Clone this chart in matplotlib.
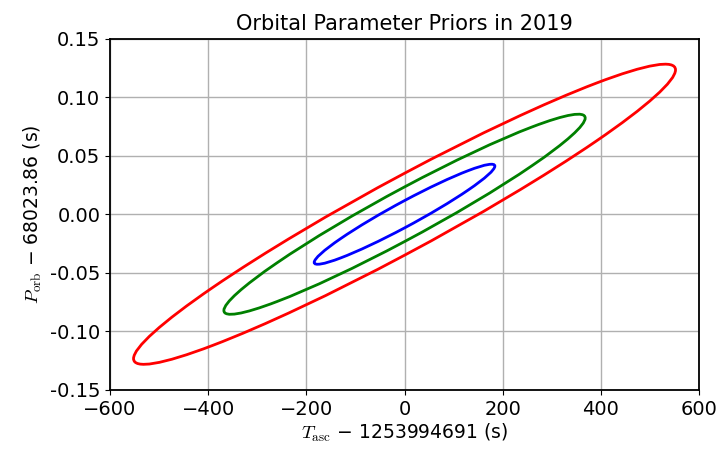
import numpy as np
import matplotlib
matplotlib.use("Agg")
import matplotlib.pyplot as plt
from matplotlib.patches import Ellipse

# prior widths
sigma_T = 184.0      # s, on T_asc
sigma_P = 0.0427     # s, on P_orb
rho = 0.962          # correlation
levels = [1, 2, 3]
colors = ["blue", "green", "red"]

plt.rcParams["mathtext.fontset"] = "cm"
plt.rcParams["font.size"] = 13.5

cov = np.array([[sigma_T**2, rho * sigma_T * sigma_P],
                [rho * sigma_T * sigma_P, sigma_P**2]])
vals, vecs = np.linalg.eigh(cov)
angle = np.degrees(np.arctan2(vecs[1, 1], vecs[0, 1]))

fig = plt.figure(figsize=(7.17, 4.51), dpi=100)
ax = fig.add_axes([0.1534, 0.1353, 0.8216, 0.7793])

for k, c in zip(levels, colors):
    e = Ellipse((0, 0), width=2 * k * np.sqrt(vals[1]), height=2 * k * np.sqrt(vals[0]),
                angle=angle, fill=False, edgecolor=c, lw=2, zorder=3)
    ax.add_patch(e)

ax.set_xlim(-600, 600)
ax.set_ylim(-0.15, 0.15)
ax.set_xticks([-600, -400, -200, 0, 200, 400, 600])
ax.set_yticks([-0.15, -0.10, -0.05, 0.00, 0.05, 0.10, 0.15])
ax.yaxis.set_major_formatter(matplotlib.ticker.FormatStrFormatter("%.2f"))
ax.tick_params(labelsize=14)
ax.grid(True, color="#b0b0b0", lw=1)
ax.set_axisbelow(True)
for s in ax.spines.values():
    s.set_linewidth(1.3)

ax.set_title("Orbital Parameter Priors in 2019", fontsize=15)
ax.set_xlabel(r"$T_\mathrm{asc}$ − 1253994691 (s)", fontsize=13.5, labelpad=2)
ax.set_ylabel(r"$P_\mathrm{orb}$ − 68023.86 (s)", fontsize=13.5, labelpad=4)

fig.savefig("out.png", dpi=100)
